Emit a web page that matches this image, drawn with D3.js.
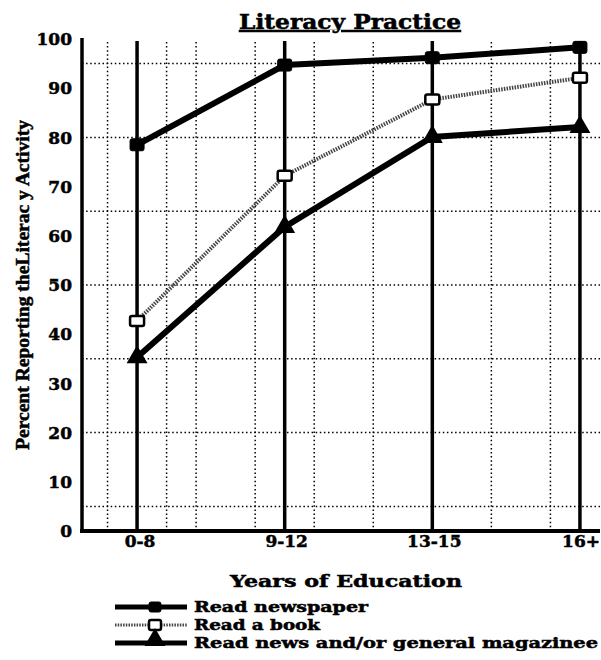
<!DOCTYPE html>
<html lang="en">
<head>
  <meta charset="UTF-8">
  <title>Literacy Practice</title>
  <style>
    body {
      margin: 0;
      padding: 0;
      background: #fff;
    }
    svg {
      display: block;
    }
    text {
      font-family: 'DejaVu Serif', serif;
      font-weight: bold;
      fill: #000;
      stroke: #000;
      stroke-width: 0.5px;
    }
    .grid {
      stroke: #000;
      stroke-width: 1.5px;
      stroke-dasharray: 1.5 2.6;
      fill: none;
    }
    .axis-line {
      stroke: #000;
      fill: none;
    }
  </style>
</head>
<body>
  <svg width="601" height="660"></svg>

  <script src="https://d3js.org/d3.v7.min.js"></script>
  <script>
    const categories = ["0-8", "9-12", "13-15", "16+"];
    const newspaper = [78.5, 94.7, 96.2, 98.3];
    const book = [42.7, 72.2, 87.7, 92.1];
    const magazine = [35.3, 61.8, 80.1, 82.1];
    const yTicks = [0, 10, 20, 30, 40, 50, 60, 70, 80, 90, 100];
    const hGrid = [5, 20, 35, 50, 65, 80, 95];
    const vGrid = [-0.2, 0.2, 0.4, 0.8, 1.2, 1.6, 2.4, 2.8];
    const legendLabels = ["Read newspaper", "Read a book", "Read news and/or general magazinee"];

    const svg = d3.select("svg");

    const plotLeft = 82, plotRight = 600, plotBottom = 531, plotTop = 39;

    const x = d3.scalePoint()
      .domain(categories)
      .range([plotLeft, 635])
      .padding(0.373);

    // fractional positions between categories, for the dotted grid
    const xi = d3.scaleLinear()
      .domain([0, categories.length - 1])
      .range([x(categories[0]), x(categories[categories.length - 1])]);

    const y = d3.scaleLinear().domain([0, 100]).range([plotBottom, plotTop]);

    // dotted grid
    const grid = svg.append("g");
    grid.selectAll(".hg")
      .data(hGrid)
      .enter().append("line")
      .attr("class", "grid")
      .attr("x1", plotLeft).attr("x2", plotRight)
      .attr("y1", d => y(d)).attr("y2", d => y(d));

    grid.selectAll(".vg")
      .data(vGrid)
      .enter().append("line")
      .attr("class", "grid")
      .attr("x1", d => xi(d)).attr("x2", d => xi(d))
      .attr("y1", 42).attr("y2", plotBottom);

    // solid verticals at each category
    svg.append("g").selectAll("line")
      .data(categories)
      .enter().append("line")
      .attr("class", "axis-line")
      .attr("stroke-width", 3.5)
      .attr("x1", d => x(d)).attr("x2", d => x(d))
      .attr("y1", 41).attr("y2", plotBottom);

    // axes
    svg.append("line")
      .attr("class", "axis-line")
      .attr("stroke-width", 3.5)
      .attr("x1", plotLeft).attr("x2", plotLeft)
      .attr("y1", 38).attr("y2", plotBottom + 2);
    svg.append("line")
      .attr("class", "axis-line")
      .attr("stroke-width", 4)
      .attr("x1", plotLeft - 2).attr("x2", plotRight)
      .attr("y1", plotBottom).attr("y2", plotBottom);

    // y tick labels
    svg.append("g").selectAll("text")
      .data(yTicks)
      .enter().append("text")
      .attr("x", 72)
      .attr("y", d => y(d))
      .attr("dy", "0.36em")
      .attr("text-anchor", "end")
      .attr("font-size", 17)
      .text(d => d);

    // x tick labels
    svg.append("g").selectAll("text")
      .data(categories)
      .enter().append("text")
      .attr("x", (d, i) => i === categories.length - 1 ? 600 : x(d) + (i === 0 ? 3 : 2))
      .attr("y", 547)
      .attr("text-anchor", (d, i) => i === categories.length - 1 ? "end" : "middle")
      .attr("font-size", 17)
      .text(d => d);

    // titles
    svg.append("text")
      .attr("x", 350)
      .attr("y", 29)
      .attr("text-anchor", "middle")
      .attr("font-size", 20)
      .attr("textLength", 222)
      .attr("lengthAdjust", "spacingAndGlyphs")
      .style("text-decoration", "underline")
      .text("Literacy Practice");

    svg.append("text")
      .attr("x", 346)
      .attr("y", 587)
      .attr("text-anchor", "middle")
      .attr("font-size", 17)
      .attr("textLength", 232)
      .attr("lengthAdjust", "spacingAndGlyphs")
      .text("Years of Education");

    svg.append("text")
      .attr("transform", "translate(29,285) rotate(-90)")
      .attr("text-anchor", "middle")
      .attr("font-size", 18)
      .attr("textLength", 330)
      .attr("lengthAdjust", "spacingAndGlyphs")
      .style("font-family", "'Liberation Serif', serif")
      .text("Percent Reporting theLiterac y Activity");

    // series
    const line = d3.line()
      .x((d, i) => x(categories[i]))
      .y(d => y(d));

    const tri = d3.symbol().type(d3.symbolTriangle).size(190);

    function squareMarker(sel, w, h, filled) {
      sel.append("rect")
        .attr("x", -w / 2).attr("y", -h / 2)
        .attr("width", w).attr("height", h)
        .attr("rx", 2)
        .attr("fill", filled ? "#000" : "#fff")
        .attr("stroke", "#000")
        .attr("stroke-width", filled ? 1 : 2.5);
    }

    // book
    svg.append("path")
      .attr("d", line(book))
      .attr("fill", "none")
      .attr("stroke", "#444")
      .attr("stroke-width", 4)
      .attr("stroke-dasharray", "1.5 1.2");

    // magazine
    svg.append("path")
      .attr("d", line(magazine))
      .attr("fill", "none")
      .attr("stroke", "#000")
      .attr("stroke-width", 6);

    // newspaper
    svg.append("path")
      .attr("d", line(newspaper))
      .attr("fill", "none")
      .attr("stroke", "#000")
      .attr("stroke-width", 6);

    svg.append("g").selectAll("g")
      .data(newspaper)
      .enter().append("g")
      .attr("transform", (d, i) => `translate(${x(categories[i])},${y(d)})`)
      .call(g => squareMarker(g, 14, 12, true));

    svg.append("g").selectAll("g")
      .data(book)
      .enter().append("g")
      .attr("transform", (d, i) => `translate(${x(categories[i])},${y(d)})`)
      .call(g => squareMarker(g, 14, 10, false));

    svg.append("g").selectAll("path")
      .data(magazine)
      .enter().append("path")
      .attr("transform", (d, i) => `translate(${x(categories[i])},${y(d)})`)
      .attr("d", tri)
      .attr("fill", "#000");

    // legend (text baselines)
    const legendRows = [612, 630, 648];
    const legendEnds = [368, 320, 598];
    const legend = svg.append("g");

    legendLabels.forEach((label, i) => {
      const ly = legendRows[i] - 5;
      const row = legend.append("g");
      if (i === 1) {
        row.append("line")
          .attr("x1", 115).attr("x2", 187)
          .attr("y1", ly).attr("y2", ly)
          .attr("stroke", "#444")
          .attr("stroke-width", 3)
          .attr("stroke-dasharray", "1.5 1.2");
        row.append("g")
          .attr("transform", `translate(155,${ly})`)
          .call(g => squareMarker(g, 12, 10, false));
      } else {
        row.append("line")
          .attr("x1", 115).attr("x2", 187)
          .attr("y1", ly).attr("y2", ly)
          .attr("stroke", "#000")
          .attr("stroke-width", 5);
        if (i === 0) {
          row.append("g")
            .attr("transform", `translate(155,${ly})`)
            .call(g => squareMarker(g, 12, 10, true));
        } else {
          row.append("path")
            .attr("transform", `translate(155,${ly - 3})`)
            .attr("d", tri)
            .attr("fill", "#000");
        }
      }
      row.append("text")
        .attr("x", 194)
        .attr("y", legendRows[i])
        .attr("font-size", 15)
        .attr("textLength", legendEnds[i] - 194)
        .attr("lengthAdjust", "spacingAndGlyphs")
        .text(label);
    });
  </script>
</body>
</html>
